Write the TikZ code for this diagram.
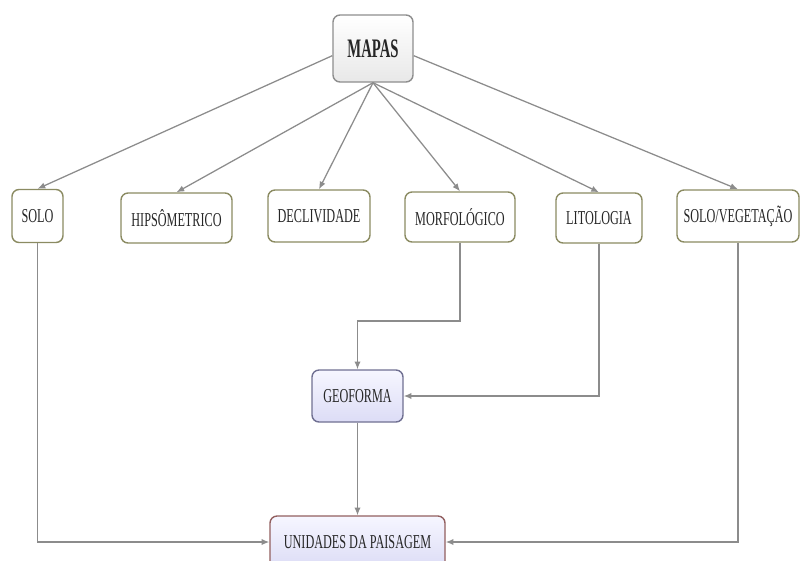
\documentclass[tikz,border=0pt]{standalone}
\usepackage{fontspec}
\setmainfont{Liberation Serif}[FakeStretch=0.62]
\newfontfamily\mapasfont{Liberation Serif}[FakeStretch=0.55]
\usetikzlibrary{arrows.meta}
\definecolor{linegray}{HTML}{8C8C8C}
\definecolor{olivebd}{HTML}{8B8B62}
\definecolor{graybd}{HTML}{8E8E8E}
\definecolor{purplebd}{HTML}{707092}
\definecolor{brownbd}{HTML}{925F5F}
\definecolor{lavtop}{HTML}{F6F6FF}
\definecolor{lavbot}{HTML}{DCDCF6}
\begin{document}
\begin{tikzpicture}[x=0.025cm,y=-0.025cm,
  box/.style={draw=olivebd,line width=1pt,rounded corners=5pt,fill=white,
    inner sep=0pt,text=black!85,font=\fontsize{14}{16}\selectfont},
  topbox/.style={box,draw=graybd,top color=white,bottom color=black!9,
    font=\mapasfont\bfseries\fontsize{19}{21}\selectfont},
  geobox/.style={box,draw=purplebd,top color=lavtop,bottom color=lavbot},
  endbox/.style={box,draw=brownbd,top color=lavtop,bottom color=lavbot},
  conn/.style={draw=linegray,line width=0.9pt,-{Latex[length=5.5pt,width=4.5pt]}}]
  \useasboundingbox (0,0) rectangle (800,560);
  \node[topbox,minimum width=80*0.025cm,minimum height=67*0.025cm] (mapas) at (373,48.5) {MAPAS};
  \node[box,minimum width=51*0.025cm,minimum height=53*0.025cm] (solo) at (37.5,216) {SOLO};
  \node[box,minimum width=111*0.025cm,minimum height=50*0.025cm] (hips) at (176.5,218) {HIPSÔMETRICO};
  \node[box,minimum width=102*0.025cm,minimum height=52*0.025cm] (decl) at (319,216) {DECLIVIDADE};
  \node[box,minimum width=110*0.025cm,minimum height=50*0.025cm] (morf) at (460,217) {MORFOLÓGICO};
  \node[box,minimum width=86*0.025cm,minimum height=50*0.025cm] (lito) at (599,218) {LITOLOGIA};
  \node[box,minimum width=122*0.025cm,minimum height=52*0.025cm] (solov) at (738,216) {SOLO/VEGETAÇÃO};
  \node[geobox,minimum width=91*0.025cm,minimum height=52*0.025cm] (geo) at (357.5,396) {GEOFORMA};
  \node[endbox,minimum width=175*0.025cm,minimum height=52*0.025cm] (unid) at (357.5,542) {UNIDADES DA PAISAGEM};
  \coordinate (mbend) at (357.5,321);
  \draw[conn] (mapas.190) -- (solo.north);
  \draw[conn] (mapas.350) -- (solov.north);
  \foreach \n in {hips,decl,morf,lito}
    \draw[conn] (mapas.south) -- (\n.north);
  \draw[conn] (morf.south) |- (mbend) -- (geo.north);
  \draw[conn] (lito.south) |- (geo.east);
  \draw[conn] (geo.south) -- (unid.north);
  \draw[conn] (solo.south) |- (unid.west);
  \draw[conn] (solov.south) |- (unid.east);
\end{tikzpicture}
\end{document}
